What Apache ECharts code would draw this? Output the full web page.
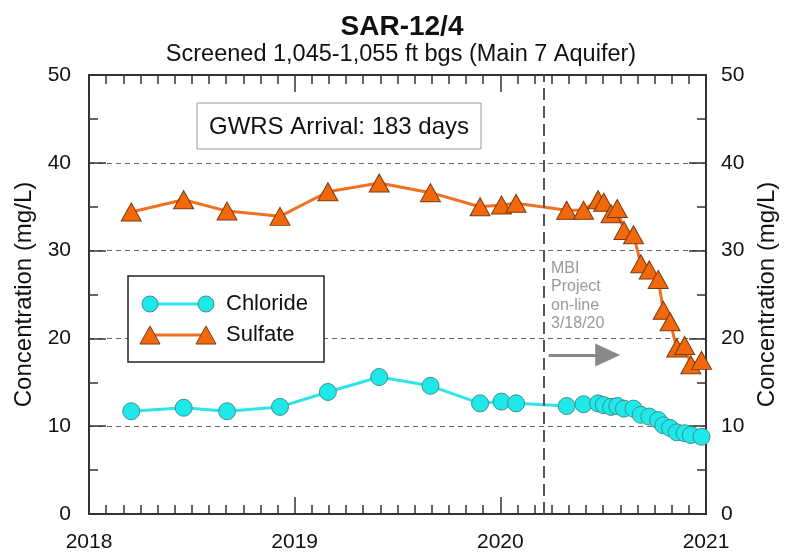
<!DOCTYPE html>
<html>
<head>
<meta charset="utf-8">
<script src="https://cdn.jsdelivr.net/npm/echarts@6/dist/echarts.min.js"></script>
<style>html,body{margin:0;padding:0;background:#fff}#c{width:788px;height:555px}</style>
</head>
<body>
<div id="c"></div>
<script>
// ---- data ----
const sampleDates = ['2018-03-17','2018-06-18','2018-09-03','2018-12-06','2019-03-01','2019-05-31','2019-08-30',
  '2019-11-26','2020-01-03','2020-01-29','2020-04-28','2020-05-28','2020-06-23','2020-07-03','2020-07-16',
  '2020-07-27','2020-08-08','2020-08-25','2020-09-07','2020-09-22','2020-10-08','2020-10-17','2020-10-29',
  '2020-11-10','2020-11-24','2020-12-05','2020-12-24'];
const chlorideValues = [11.7,12.1,11.7,12.2,13.9,15.6,14.6,12.6,12.8,12.6,12.3,12.5,12.6,12.4,12.2,12.3,12.0,12.0,11.3,11.1,10.7,10.1,9.8,9.3,9.2,9.0,8.8];
const sulfateValues = [34.4,35.8,34.5,33.9,36.7,37.7,36.6,35.0,35.2,35.4,34.6,34.6,35.8,35.5,34.2,34.8,32.3,31.8,28.5,27.8,26.7,23.2,21.9,18.9,19.2,17.0,17.5];
const xTickLabels = ['2018','2019','2020','2021'];
const yTicks = [0,10,20,30,40,50];
const mbiDate = '2020-03-18';
const arrowStart = ['2020-03-27', 18.1];
const arrowEnd = ['2020-07-10', 18.1];

function dy(s){const d=Date.parse(s+'T00:00:00Z');const y=new Date(d).getUTCFullYear();
  const a=Date.UTC(y,0,1),b=Date.UTC(y+1,0,1);return y+(d-a)/(b-a);}

const FONT = 'Liberation Sans';
const chart = echarts.init(document.getElementById('c'));
const xmin = +xTickLabels[0], xmax = +xTickLabels[xTickLabels.length-1];
const ymin = yTicks[0], ymax = yTicks[yTicks.length-1];

const xCommon = {type:'value', min:xmin, max:xmax, interval:1,
  axisLine:{onZero:false,lineStyle:{color:'#333',width:2}},
  axisTick:{inside:true,length:17,lineStyle:{color:'#333',width:1.5}},
  minorTick:{show:true,splitNumber:12,length:9,lineStyle:{color:'#333',width:1.5}},
  splitLine:{show:false}};
const yCommon = {type:'value', min:ymin, max:ymax, interval:10,
  axisLine:{show:true,onZero:false,lineStyle:{color:'#333',width:2}},
  axisTick:{show:true,inside:true,length:17,lineStyle:{color:'#333',width:1.5}},
  minorTick:{show:true,splitNumber:2,length:9,lineStyle:{color:'#333',width:1.5}},
  name:'Concentration (mg/L)', nameLocation:'middle',
  nameTextStyle:{fontFamily:FONT,fontSize:24,color:'#111'}};

chart.setOption({
  animation:false,
  title:[{text:'SAR-12/4',left:397,top:8,textAlign:'center',
      textStyle:{fontFamily:FONT,fontSize:28,fontWeight:'bold',color:'#111'}},
    {text:'Screened 1,045-1,055 ft bgs (Main 7 Aquifer)',left:396,top:38,textAlign:'center',
      textStyle:{fontFamily:FONT,fontSize:23.5,fontWeight:'normal',color:'#111'}}],
  grid:{left:89,right:82,top:75,bottom:41},
  xAxis:[
    Object.assign({},xCommon,{position:'bottom',
      axisLabel:{fontFamily:FONT,fontSize:21,color:'#111',margin:18,formatter:v=>String(v)}}),
    Object.assign({},xCommon,{position:'top',axisLabel:{show:false}})
  ],
  yAxis:[
    Object.assign({},yCommon,{position:'left',nameGap:50,
      axisLabel:{fontFamily:FONT,fontSize:21,color:'#111',margin:18},
      splitLine:{show:true,lineStyle:{color:'#666',type:[5,4],width:1}}}),
    Object.assign({},yCommon,{position:'right',nameGap:45,
      axisLabel:{fontFamily:FONT,fontSize:21,color:'#111',margin:15},
      splitLine:{show:false}})
  ],
  series:[
    {name:'Chloride',type:'line',data:sampleDates.map((d,i)=>[dy(d),chlorideValues[i]]),
      symbol:'circle',symbolSize:17,
      lineStyle:{color:'#2EE3EA',width:3},
      itemStyle:{color:'#1FE8E8',borderColor:'#3F8F90',borderWidth:1},
      markLine:{silent:true,symbol:'none',label:{show:false},
        lineStyle:{color:'#555',type:[12,6],width:2},
        data:[{xAxis:dy(mbiDate)}]}},
    {name:'Sulfate',type:'line',data:sampleDates.map((d,i)=>[dy(d),sulfateValues[i]]),
      symbol:'triangle',symbolSize:[20,18],
      lineStyle:{color:'#F07022',width:3},
      itemStyle:{color:'#F2680A',borderColor:'#7A3A12',borderWidth:1},
      markLine:{silent:true,symbol:['none','triangle'],symbolSize:[23,25],label:{show:false},
        lineStyle:{color:'#888',type:'solid',width:3},
        itemStyle:{color:'#888'},
        data:[[{coord:[dy(arrowStart[0]),arrowStart[1]]},{coord:[dy(arrowEnd[0]),arrowEnd[1]]}]]}}
  ],
  graphic:[
    {type:'rect',shape:{x:197,y:103,width:284,height:46},style:{fill:'#fff',stroke:'#999',lineWidth:1},z:10},
    {type:'text',x:339,y:127,style:{text:'GWRS Arrival: 183 days',fontFamily:FONT,fontSize:24,fill:'#111',
      align:'center',verticalAlign:'middle'},z:11},
    {type:'text',x:551,y:259,style:{text:'MBI\nProject\non-line\n3/18/20',fontFamily:FONT,fontSize:16,
      lineHeight:18.5,fill:'#999',align:'left',verticalAlign:'top'},z:11},
    {type:'rect',shape:{x:128,y:276,width:196,height:86},style:{fill:'#fff',stroke:'#222',lineWidth:1.5},z:10},
    {type:'line',shape:{x1:150,y1:304,x2:206,y2:304},style:{stroke:'#2EE3EA',lineWidth:3},z:11},
    {type:'circle',shape:{cx:150,cy:304,r:8},style:{fill:'#1FE8E8',stroke:'#3F8F90',lineWidth:1},z:12},
    {type:'circle',shape:{cx:206,cy:304,r:8},style:{fill:'#1FE8E8',stroke:'#3F8F90',lineWidth:1},z:12},
    {type:'text',x:226,y:304,style:{text:'Chloride',fontFamily:FONT,fontSize:22,fill:'#111',verticalAlign:'middle'},z:11},
    {type:'line',shape:{x1:150,y1:335,x2:206,y2:335},style:{stroke:'#F07022',lineWidth:3},z:11},
    {type:'polygon',shape:{points:[[150,326],[160,344],[140,344]]},style:{fill:'#F2680A',stroke:'#7A3A12',lineWidth:1},z:12},
    {type:'polygon',shape:{points:[[206,326],[216,344],[196,344]]},style:{fill:'#F2680A',stroke:'#7A3A12',lineWidth:1},z:12},
    {type:'text',x:226,y:335,style:{text:'Sulfate',fontFamily:FONT,fontSize:22,fill:'#111',verticalAlign:'middle'},z:11}
  ]
});
</script>
</body>
</html>
